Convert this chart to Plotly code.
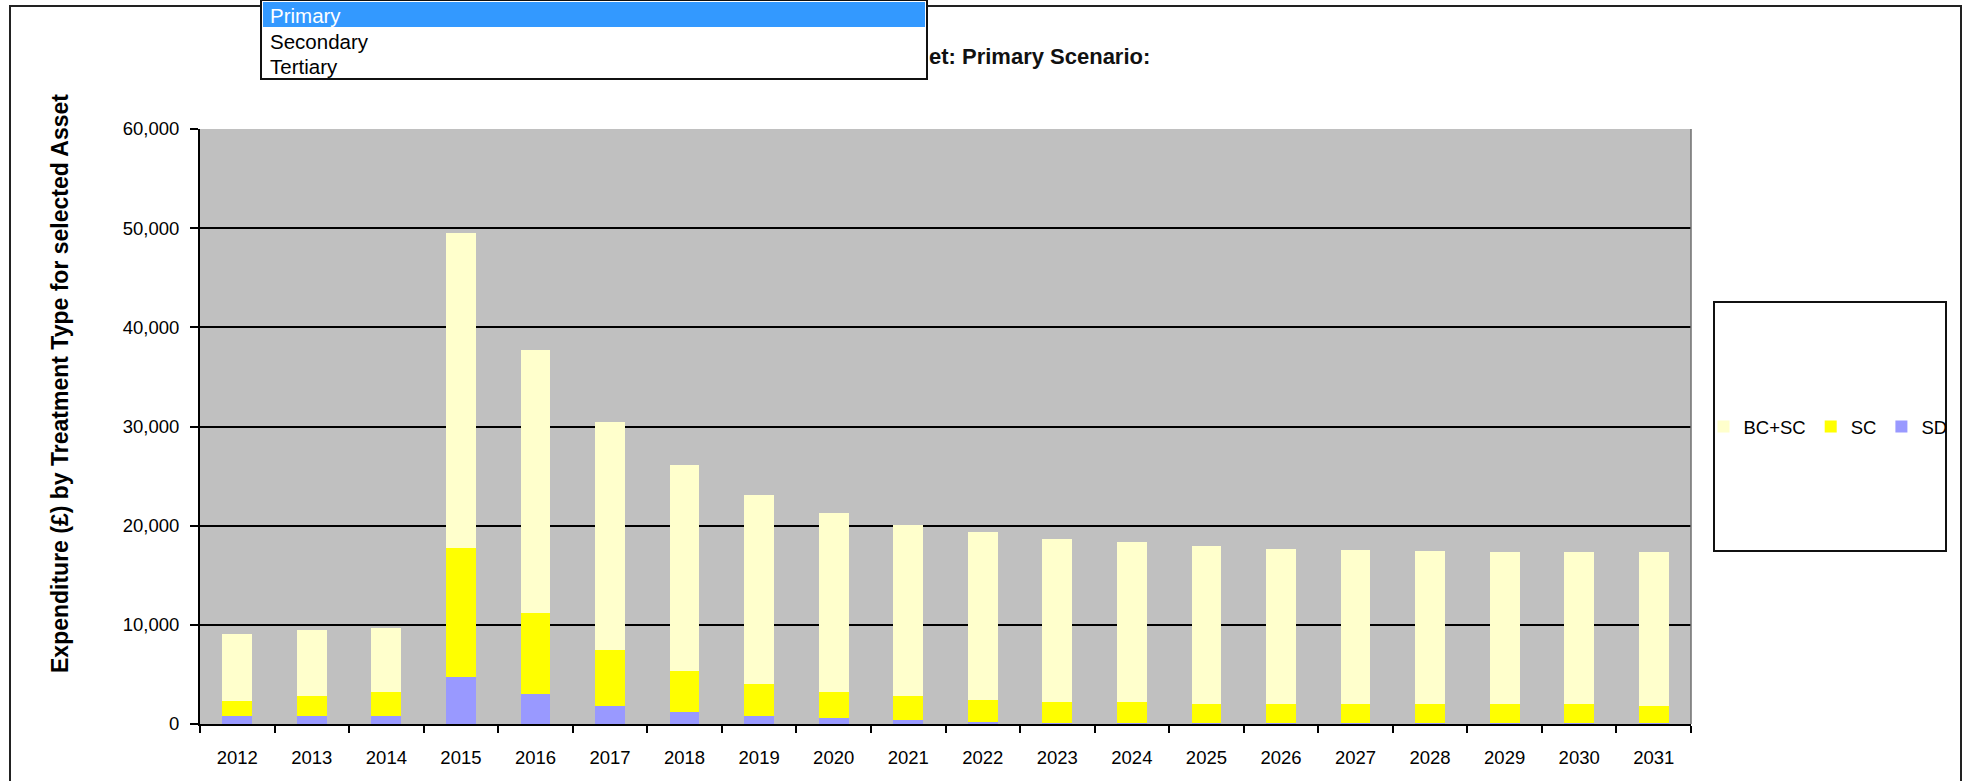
import plotly.graph_objects as go

# ---- data ---------------------------------------------------------------
years = [str(y) for y in range(2012, 2032)]

# expenditure (GBP) per treatment type, stacked bottom-to-top: SD, SC, BC+SC
sd = [830, 830, 830, 4750, 2990, 1830, 1200, 830, 600, 400,
      200, 150, 150, 120, 120, 120, 120, 120, 120, 120]
sc = [1530, 1960, 2360, 12950, 8240, 5680, 4150, 3160, 2590, 2390,
      2190, 2040, 2040, 1880, 1880, 1880, 1880, 1880, 1880, 1670]
bc_sc = [6710, 6680, 6480, 31790, 26440, 22990, 20770, 19090, 18130, 17310,
         16930, 16500, 16120, 15930, 15680, 15550, 15420, 15300, 15300, 15510]

y_ticks = [0, 10000, 20000, 30000, 40000, 50000, 60000]
scenario_options = ["Primary", "Secondary", "Tertiary"]
selected_option = "Primary"

# ---- geometry helpers (pixel -> paper) ----------------------------------
W, H = 1964, 781
L, R, T, B = 200, 1691, 129, 724
PW, PH = R - L, B - T


def px_x(p):
    return (p - L) / PW


def px_y(p):
    return (B - p) / PH


FONT = "Liberation Sans, Arial, sans-serif"

fig = go.Figure()
fig.add_trace(go.Bar(x=years, y=sd, name="SD", marker_color="#9999FF",
                     marker_line_width=0, legendrank=3))
fig.add_trace(go.Bar(x=years, y=sc, name="SC", marker_color="#FFFF00",
                     marker_line_width=0, legendrank=2))
fig.add_trace(go.Bar(x=years, y=bc_sc, name="BC+SC", marker_color="#FFFFCC",
                     marker_line_width=0, legendrank=1))

shapes = []
# outer chart frame
shapes.append(dict(type="rect", xref="paper", yref="paper",
                   x0=px_x(10), x1=px_x(1961), y0=px_y(800), y1=px_y(6),
                   line=dict(color="#222222", width=2), fillcolor="rgba(0,0,0,0)",
                   layer="above"))
# plot-area border (right edge)
shapes.append(dict(type="line", xref="paper", yref="paper",
                   x0=1, x1=1, y0=0, y1=1,
                   line=dict(color="#707070", width=1.5), layer="above"))
# legend box
shapes.append(dict(type="rect", xref="paper", yref="paper",
                   x0=px_x(1714), x1=px_x(1946), y0=px_y(551), y1=px_y(302),
                   line=dict(color="#111111", width=2), fillcolor="white",
                   layer="above"))
# scenario drop-down list
shapes.append(dict(type="rect", xref="paper", yref="paper",
                   x0=px_x(261), x1=px_x(927), y0=px_y(79), y1=px_y(0),
                   line=dict(color="#111111", width=2), fillcolor="white",
                   layer="above"))
shapes.append(dict(type="rect", xref="paper", yref="paper",
                   x0=px_x(263), x1=px_x(925), y0=px_y(27), y1=px_y(2),
                   line=dict(width=0), fillcolor="#3399FF", layer="above"))

annotations = []
# y-axis title
annotations.append(dict(
    text="Expenditure (£) by Treatment Type for selected Asset",
    xref="paper", yref="paper", x=px_x(60), y=px_y(384),
    xanchor="center", yanchor="middle", textangle=-90, showarrow=False,
    font=dict(family=FONT, size=23, color="black", weight="bold")))
# chart title (visible part to the right of the drop-down)
annotations.append(dict(
    text="et: Primary Scenario:",
    xref="paper", yref="paper", x=px_x(927), y=px_y(56),
    xanchor="left", yanchor="middle", showarrow=False,
    font=dict(family=FONT, size=22, color="#111111", weight="bold")))
# drop-down entries
for i, opt in enumerate(scenario_options):
    annotations.append(dict(
        text=opt, xref="paper", yref="paper",
        x=px_x(268), y=px_y(15 + 26 * i),
        xanchor="left", yanchor="middle", showarrow=False,
        font=dict(family=FONT, size=20.5,
                  color="white" if opt == selected_option else "black")))

fig.update_layout(
    width=W, height=H, autosize=False,
    margin=dict(l=L, r=W - R, t=T, b=H - B, pad=0),
    paper_bgcolor="white", plot_bgcolor="#C0C0C0",
    barmode="stack", bargap=0.6,
    font=dict(family=FONT, size=18, color="black"),
    showlegend=True,
    legend=dict(orientation="h", x=px_x(1828), y=px_y(427),
                xanchor="center", yanchor="middle",
                bgcolor="rgba(0,0,0,0)", borderwidth=0,
                traceorder="normal", itemwidth=30,
                font=dict(family=FONT, size=18.5, color="black")),
    shapes=shapes, annotations=annotations,
    xaxis=dict(type="category", showgrid=False, showline=True,
               linecolor="black", linewidth=2,
               ticks="outside", tickson="boundaries", ticklen=7,
               tickwidth=1.5, tickcolor="black",
               ticklabelstandoff=16,
               tickfont=dict(family=FONT, size=18.5, color="black"),
               fixedrange=True),
    yaxis=dict(range=[0, 60000], tickvals=y_ticks, tickformat=",d",
               showgrid=True, gridcolor="black", gridwidth=2,
               zeroline=False, showline=True, linecolor="black", linewidth=2,
               ticks="outside", ticklen=8, tickwidth=1.5, tickcolor="black",
               ticklabelstandoff=7,
               tickfont=dict(family=FONT, size=18.5, color="black"),
               fixedrange=True),
)

fig.write_html("out.html")
